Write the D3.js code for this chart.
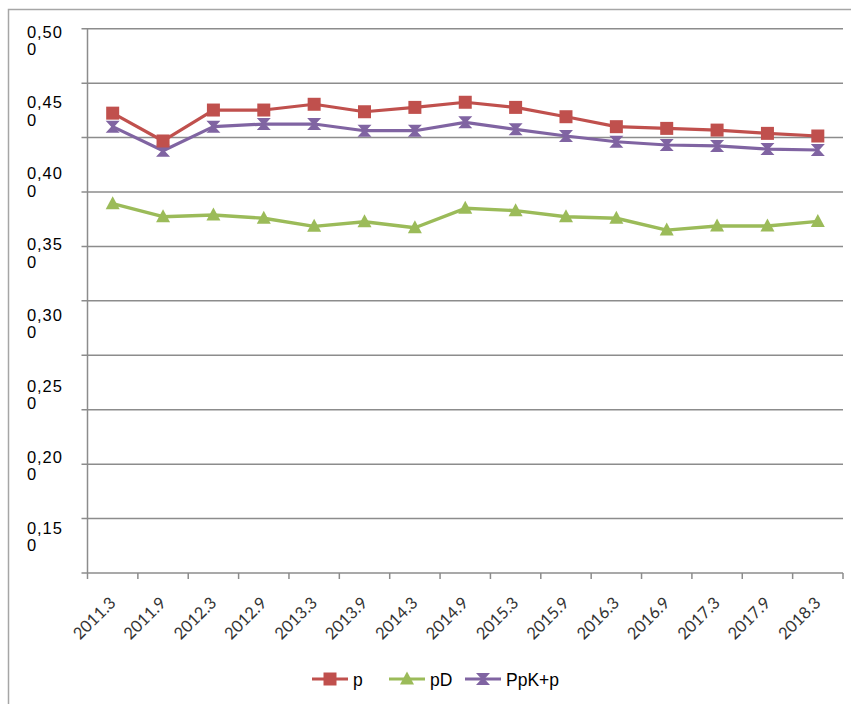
<!DOCTYPE html>
<html><head><meta charset="utf-8">
<script src="https://cdn.jsdelivr.net/npm/d3@7"></script>
<style>
html,body{margin:0;padding:0;background:#fff;}
svg{display:block;}
</style></head>
<body>
<svg id="chart" width="851" height="704"></svg>
<script>
const categories = ["2011.3","2011.9","2012.3","2012.9","2013.3","2013.9","2014.3","2014.9","2015.3","2015.9","2016.3","2016.9","2017.3","2017.9","2018.3"];
const seriesP   = [0.4457,0.4278,0.4477,0.4477,0.4514,0.4466,0.4494,0.4527,0.4494,0.4434,0.4370,0.4359,0.4348,0.4327,0.4310];
const seriesPD  = [0.3875,0.3791,0.3802,0.3781,0.3729,0.3759,0.3720,0.3845,0.3830,0.3791,0.3781,0.3705,0.3731,0.3731,0.3761];
const seriesPpK = [0.4370,0.4215,0.4370,0.4387,0.4387,0.4344,0.4344,0.4398,0.4353,0.4310,0.4273,0.4252,0.4246,0.4226,0.4220];
const seriesNames = ["p","pD","PpK+p"];
const yTickLabels = ["0,500","0,450","0,400","0,350","0,300","0,250","0,200","0,150"];
const yMin = 0.15, yMax = 0.50, gridCount = 10;

const colors = {p:"#C0504D", pD:"#9BBB59", ppk:"#8064A2"};
const svg = d3.select("#chart");

// outer frame
svg.append("path").attr("d","M8.5,704 L8.5,9.5 L851,9.5")
  .attr("fill","none").attr("stroke","#a6a6a6").attr("stroke-width",1.5);

const plot = {left:87.5, right:843, top:28.7, bottom:573};
const x = d3.scaleBand().domain(categories).range([plot.left, plot.right]);
const y = d3.scaleLinear().domain([yMin, yMax]).range([plot.bottom, plot.top]);

// gridlines
const gridVals = d3.range(gridCount+1).map(i => yMin + i*(yMax-yMin)/gridCount);
svg.append("g").selectAll("line").data(gridVals.filter(v => v > yMin + 1e-9)).join("line")
  .attr("x1", plot.left - 6).attr("x2", plot.right)
  .attr("y1", d => y(d)).attr("y2", d => y(d))
  .attr("stroke","#8c8c8c").attr("stroke-width",1.5);

// y axis line
svg.append("line").attr("x1",plot.left).attr("x2",plot.left)
  .attr("y1",plot.top).attr("y2",plot.bottom)
  .attr("stroke","#8c8c8c").attr("stroke-width",1.5);

// x axis
const xAxis = d3.axisBottom(x).tickSize(0).tickFormat("");
const gx = svg.append("g").attr("transform",`translate(0,${plot.bottom})`).call(xAxis);
gx.select(".domain").attr("stroke","#8c8c8c").attr("stroke-width",1.5)
  .attr("d",`M${plot.left-6},0H${plot.right}`);
const edges = categories.map(c => x(c)).concat([plot.right]);
gx.selectAll("line.edge").data(edges).join("line").attr("class","edge")
  .attr("x1",d=>d).attr("x2",d=>d).attr("y1",0).attr("y2",6)
  .attr("stroke","#8c8c8c").attr("stroke-width",1.5);

// x labels
svg.append("g").selectAll("text").data(categories).join("text")
  .attr("transform", d => `translate(${x(d)+x.bandwidth()/2+4},${plot.bottom+31}) rotate(-45)`)
  .attr("text-anchor","end")
  .attr("font-family","Lato, 'Open Sans', sans-serif")
  .attr("font-size","16.5px")
  .attr("fill","#333")
  .text(d => d);

// y labels (wrapped as in the reference)
const yl = d3.scalePoint().domain(yTickLabels).range([37.5, 533.5]);
const ylg = svg.append("g").selectAll("text").data(yTickLabels).join("text")
  .attr("x", 27).attr("y", d => yl(d))
  .attr("font-family","'Liberation Sans', Arial, sans-serif")
  .attr("font-size","16.5px").attr("letter-spacing","0.9px")
  .attr("fill","#000");
ylg.append("tspan").attr("x",27).text(d => d.slice(0, -1));
ylg.append("tspan").attr("x",27).attr("dy",17.5).text(d => d.slice(-1));

// markers
const squarePath = "M-6.5,-6.5H6.5V6.5H-6.5Z";
const triPath = "M0,-7.5L7,5.5H-7Z";
const hourPath = "M-7,-6H7L1.5,0L7,6H-7L-1.5,0Z";

const series = [
  {name:seriesNames[0], values:seriesP, color:colors.p, marker:squarePath, w:3.2},
  {name:seriesNames[1], values:seriesPD, color:colors.pD, marker:triPath, w:3.4},
  {name:seriesNames[2], values:seriesPpK, color:colors.ppk, marker:hourPath, w:3.2},
];
const line = d3.line().x((d,i) => x(categories[i]) + x.bandwidth()/2).y(d => y(d));

// draw order: pD, PpK, p (p on top)
[series[1], series[2], series[0]].forEach(s => {
  const g = svg.append("g");
  g.append("path").attr("d", line(s.values)).attr("fill","none")
    .attr("stroke", s.color).attr("stroke-width", s.w).attr("stroke-linejoin","round");
  g.selectAll("path.m").data(s.values).join("path").attr("class","m")
    .attr("d", s.marker)
    .attr("transform",(d,i)=>`translate(${x(categories[i])+x.bandwidth()/2},${y(d)})`)
    .attr("fill", s.color);
});

// legend
const legendItems = [
  {s:series[0], x0:312},
  {s:series[1], x0:389},
  {s:series[2], x0:465},
];
const lg = svg.append("g");
legendItems.forEach(it => {
  const ly = 679;
  lg.append("line").attr("x1",it.x0).attr("x2",it.x0+36).attr("y1",ly).attr("y2",ly)
    .attr("stroke",it.s.color).attr("stroke-width",3.2);
  lg.append("path").attr("d",it.s.marker).attr("transform",`translate(${it.x0+18},${ly})`)
    .attr("fill",it.s.color);
  lg.append("text").attr("x",it.x0+41).attr("y",ly+6.5)
    .attr("font-family","'Liberation Sans', Arial, sans-serif")
    .attr("font-size","17.5px")
    .attr("fill","#000").text(it.s.name);
});
</script>
</body></html>
